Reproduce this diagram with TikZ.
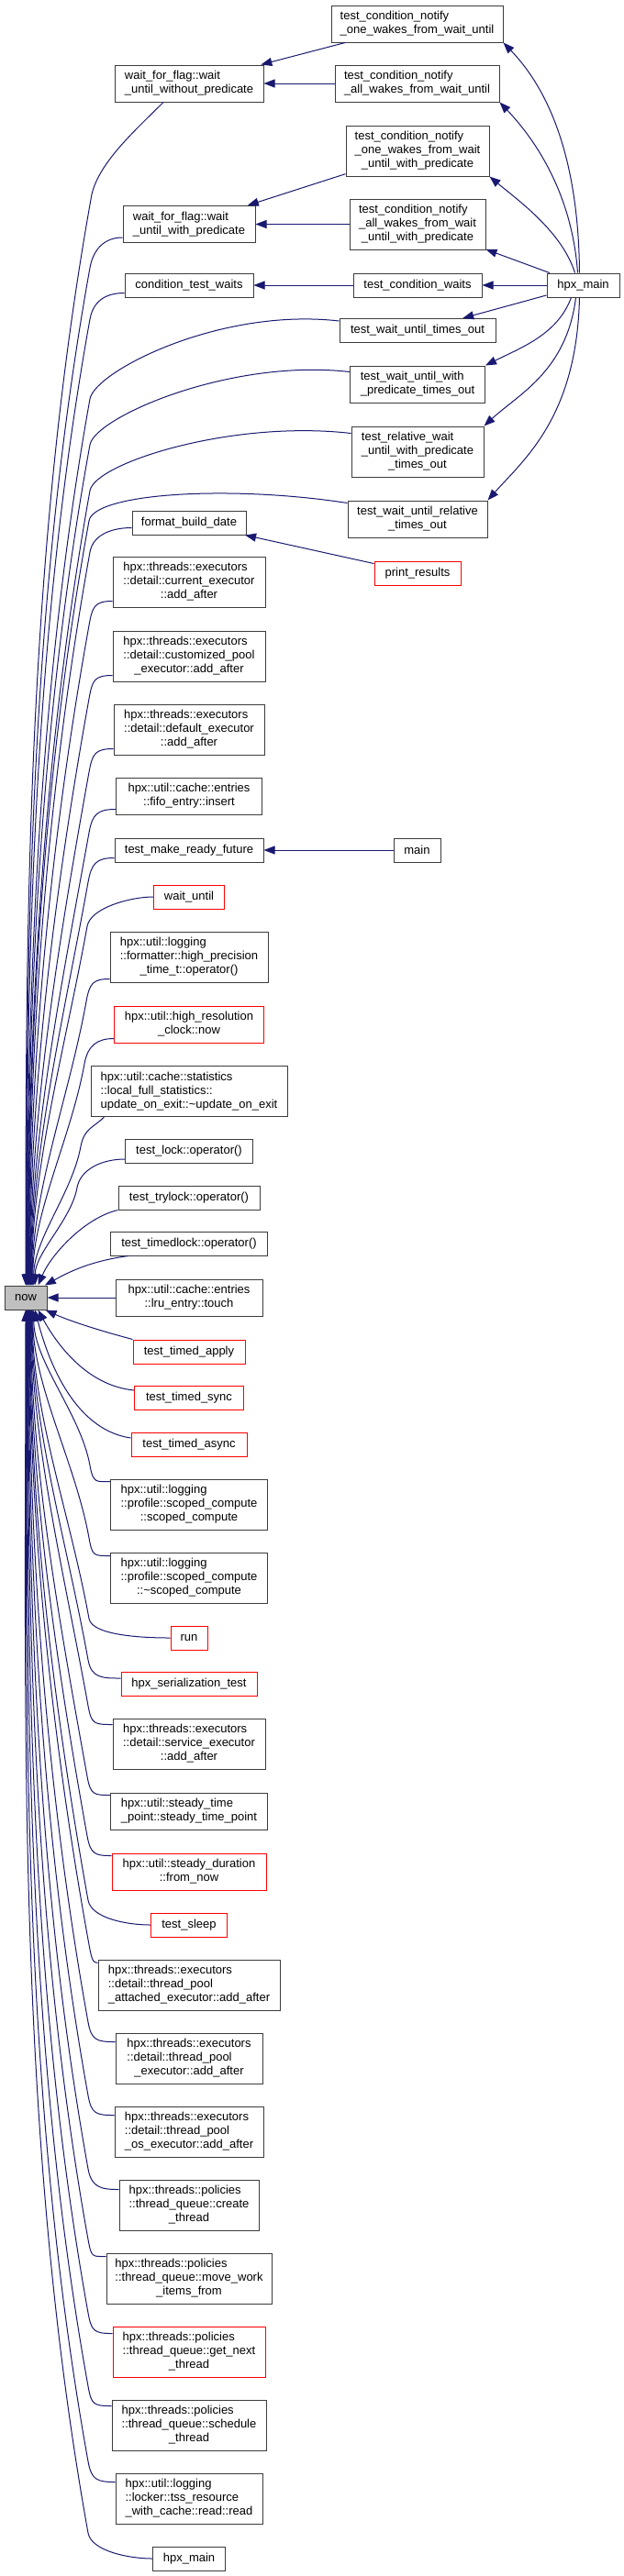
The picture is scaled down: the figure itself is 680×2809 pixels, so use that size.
\documentclass[tikz,border=0pt]{standalone}
\usepackage{fontspec}
\setmainfont{Liberation Sans}
\usetikzlibrary{arrows.meta}
\definecolor{edgeblue}{RGB}{25,25,112}
\definecolor{nowgray}{RGB}{191,191,191}
\definecolor{boxline}{RGB}{60,60,60}
\definecolor{truncred}{RGB}{255,0,0}
\newcommand{\fnlabel}[2]{\begin{tabular}{@{}l@{}}#1\\\multicolumn{1}{@{}c@{}}{#2}\end{tabular}}

\begin{document}
\begin{tikzpicture}[x=1pt,y=-1pt,
  fnbox/.style={draw=boxline,line width=1pt,fill=white,inner xsep=2pt,inner ysep=0pt,
    font=\fontsize{13pt}{15pt}\selectfont},
  truncbox/.style={fnbox,draw=truncred},
  lh1/.style={minimum height=26pt},
  lh2/.style={minimum height=40pt},
  lh3/.style={minimum height=55pt},
  callline/.style={draw=edgeblue,line width=1pt,-{Triangle[length=12pt,width=9pt]}}
]
  \fill[white] (0,0) rectangle (680,2809);
  \useasboundingbox (0,0) rectangle (680,2809);

  % the called function
  \node[fnbox,lh1,minimum width=46pt,fill=nowgray] (now) at (28,1415) {now};

  % Outer callers
  \node[fnbox,lh1,minimum width=79pt] (hpxMainR) at (635.5,311) {hpx\_main};

  % Second column
  \node[fnbox,lh2,minimum width=187pt] (tcnOneWait) at (454.5,26) {\fnlabel{test\_condition\_notify}{\_one\_wakes\_from\_wait\_until}};
  \node[fnbox,lh2,minimum width=179pt] (tcnAllWait) at (454.5,91) {\fnlabel{test\_condition\_notify}{\_all\_wakes\_from\_wait\_until}};
  \node[fnbox,lh3,minimum width=156pt] (tcnOnePred) at (455,164.5) {\fnlabel{test\_condition\_notify\\\_one\_wakes\_from\_wait}{\_until\_with\_predicate}};
  \node[fnbox,lh3,minimum width=148pt] (tcnAllPred) at (455,244.5) {\fnlabel{test\_condition\_notify\\\_all\_wakes\_from\_wait}{\_until\_with\_predicate}};
  \node[fnbox,lh1,minimum width=140pt] (tcw) at (455,311) {test\_condition\_waits};
  \node[fnbox,lh1,minimum width=170pt] (twuto) at (455,360.5) {test\_wait\_until\_times\_out};
  \node[fnbox,lh2,minimum width=147pt] (twuwpto) at (455,419) {\fnlabel{test\_wait\_until\_with}{\_predicate\_times\_out}};
  \node[fnbox,lh3,minimum width=144pt] (trwuwpto) at (455,492.5) {\fnlabel{test\_relative\_wait\\\_until\_with\_predicate}{\_times\_out}};
  \node[fnbox,lh2,minimum width=152pt] (twurto) at (455,566) {\fnlabel{test\_wait\_until\_relative}{\_times\_out}};
  \node[truncbox,lh1,minimum width=94pt] (printRes) at (455,625) {print\_results};
  \node[fnbox,lh1,minimum width=51pt] (mainN) at (454.5,927) {main};

  % First column
  \node[fnbox,lh2,minimum width=162pt] (wwp) at (206,91) {\fnlabel{wait\_for\_flag::wait}{\_until\_without\_predicate}};
  \node[fnbox,lh2,minimum width=144pt] (wwpred) at (206,244.5) {\fnlabel{wait\_for\_flag::wait}{\_until\_with\_predicate}};
  \node[fnbox,lh1,minimum width=140pt] (ctw) at (206,311) {condition\_test\_waits};
  \node[fnbox,lh1,minimum width=124pt] (fbd) at (206,570) {format\_build\_date};
  \node[fnbox,lh3,minimum width=166pt] (curExec) at (206,634.5) {\fnlabel{hpx::threads::executors\\::detail::current\_executor}{::add\_after}};
  \node[fnbox,lh3,minimum width=166pt] (custPool) at (206,715.5) {\fnlabel{hpx::threads::executors\\::detail::customized\_pool}{\_executor::add\_after}};
  \node[fnbox,lh3,minimum width=164pt] (defExec) at (206,795.5) {\fnlabel{hpx::threads::executors\\::detail::default\_executor}{::add\_after}};
  \node[fnbox,lh2,minimum width=159pt] (fifoIns) at (206,868) {\fnlabel{hpx::util::cache::entries}{::fifo\_entry::insert}};
  \node[fnbox,lh1,minimum width=162pt] (tmrf) at (206,927) {test\_make\_ready\_future};
  \node[truncbox,lh1,minimum width=77pt] (waitUntil) at (206,978) {wait\_until};
  \node[fnbox,lh3,minimum width=172pt] (hptOp) at (206,1043.5) {\fnlabel{hpx::util::logging\\::formatter::high\_precision}{\_time\_t::operator()}};
  \node[truncbox,lh2,minimum width=163pt] (hrcNow) at (206,1117) {\fnlabel{hpx::util::high\_resolution}{\_clock::now}};
  \node[fnbox,lh3,minimum width=214pt] (updExit) at (206,1190) {\fnlabel{hpx::util::cache::statistics\\::local\_full\_statistics::}{update\_on\_exit::\textasciitilde update\_on\_exit}};
  \node[fnbox,lh1,minimum width=139pt] (lockOp) at (206,1255.5) {test\_lock::operator()};
  \node[fnbox,lh1,minimum width=154pt] (trylockOp) at (206,1306) {test\_trylock::operator()};
  \node[fnbox,lh1,minimum width=171pt] (timedlockOp) at (206,1356) {test\_timedlock::operator()};
  \node[fnbox,lh2,minimum width=160pt] (lruTouch) at (206,1415) {\fnlabel{hpx::util::cache::entries}{::lru\_entry::touch}};
  \node[truncbox,lh1,minimum width=122pt] (timedApply) at (206,1474) {test\_timed\_apply};
  \node[truncbox,lh1,minimum width=119pt] (timedSync) at (206,1524.5) {test\_timed\_sync};
  \node[truncbox,lh1,minimum width=126pt] (timedAsync) at (206,1575.5) {test\_timed\_async};
  \node[fnbox,lh3,minimum width=171pt] (scopedComp) at (206,1640.5) {\fnlabel{hpx::util::logging\\::profile::scoped\_compute}{::scoped\_compute}};
  \node[fnbox,lh3,minimum width=171pt] (scopedDtor) at (206,1720.5) {\fnlabel{hpx::util::logging\\::profile::scoped\_compute}{::\textasciitilde scoped\_compute}};
  \node[truncbox,lh1,minimum width=40pt] (runN) at (206,1786) {run};
  \node[truncbox,lh1,minimum width=148pt] (serTest) at (206,1836.5) {hpx\_serialization\_test};
  \node[fnbox,lh3,minimum width=166pt] (svcExec) at (206,1901.5) {\fnlabel{hpx::threads::executors\\::detail::service\_executor}{::add\_after}};
  \node[fnbox,lh2,minimum width=171pt] (steadyTp) at (206,1975) {\fnlabel{hpx::util::steady\_time}{\_point::steady\_time\_point}};
  \node[truncbox,lh2,minimum width=168pt] (steadyDur) at (206,2041) {\fnlabel{hpx::util::steady\_duration}{::from\_now}};
  \node[truncbox,lh1,minimum width=83pt] (testSleep) at (206,2099) {test\_sleep};
  \node[fnbox,lh3,minimum width=198pt] (tpAttached) at (206,2164.5) {\fnlabel{hpx::threads::executors\\::detail::thread\_pool}{\_attached\_executor::add\_after}};
  \node[fnbox,lh3,minimum width=160pt] (tpExec) at (206,2244.5) {\fnlabel{hpx::threads::executors\\::detail::thread\_pool}{\_executor::add\_after}};
  \node[fnbox,lh3,minimum width=162pt] (tpOsExec) at (206,2324.5) {\fnlabel{hpx::threads::executors\\::detail::thread\_pool}{\_os\_executor::add\_after}};
  \node[fnbox,lh3,minimum width=152pt] (createThr) at (206,2404.5) {\fnlabel{hpx::threads::policies\\::thread\_queue::create}{\_thread}};
  \node[fnbox,lh3,minimum width=180pt] (moveWork) at (206,2484.5) {\fnlabel{hpx::threads::policies\\::thread\_queue::move\_work}{\_items\_from}};
  \node[truncbox,lh3,minimum width=166pt] (nextThr) at (206,2564.5) {\fnlabel{hpx::threads::policies\\::thread\_queue::get\_next}{\_thread}};
  \node[fnbox,lh3,minimum width=168pt] (schedThr) at (206,2644.5) {\fnlabel{hpx::threads::policies\\::thread\_queue::schedule}{\_thread}};
  \node[fnbox,lh3,minimum width=160pt] (tssRead) at (206,2724.5) {\fnlabel{hpx::util::logging\\::locker::tss\_resource}{\_with\_cache::read::read}};
  \node[fnbox,lh1,minimum width=79pt] (hpxMainB) at (206,2790) {hpx\_main};

  % Edges between the right columns
  \draw[callline] (tcnOneWait) -- (wwp);
  \draw[callline] (tcnAllWait) -- (wwp);
  \draw[callline] (tcnOnePred) -- (wwpred);
  \draw[callline] (tcnAllPred) -- (wwpred);
  \draw[callline] (tcw) -- (ctw);
  \draw[callline] (printRes) -- (fbd);
  \draw[callline] (mainN) -- (tmrf);
  \draw[callline] (hpxMainR) -- (tcnAllPred);
  \draw[callline] (hpxMainR) -- (tcw);
  \draw[callline] (hpxMainR) -- (twuto);
  \draw[callline] ([xshift=-4pt]hpxMainR.north) .. controls +(-1,-120) and +(52,54) .. (tcnOneWait.south east);
  \draw[callline] ([xshift=-6pt]hpxMainR.north) .. controls +(-6,-85) and +(40,42) .. (tcnAllWait.south east);
  \draw[callline] ([xshift=-9pt]hpxMainR.north) .. controls +(-14,-45) and +(30,25) .. (tcnOnePred.south east);
  \draw[callline] ([xshift=-13pt]hpxMainR.south) .. controls +(-15,40) and +(40,-20) .. (twuwpto.north east);
  \draw[callline] ([xshift=-8pt]hpxMainR.south) .. controls +(-10,80) and +(38,-35) .. (trwuwpto.north east);
  \draw[callline] ([xshift=-4pt]hpxMainR.south) .. controls +(-3,130) and +(40,-45) .. (twurto.north east);

  % Callers above now
  \draw[callline] ([xshift=-28pt]wwp.south) .. controls +(-30,30) and +(8,-35) .. (100,212)
    .. controls +(-71,393) and +(0,-393) .. (now.90);
  \draw[callline] ([yshift=-3pt]twuto.north west) .. controls +(-130,-15) and +(5.4,-30) .. (98,435)
    .. controls +(-57,319) and +(0,-319) .. (now.84);
  \draw[callline] ([yshift=-7pt]twuwpto.north west) .. controls +(-130,-15) and +(5.4,-30) .. (98,485)
    .. controls +(-55,303) and +(0,-303) .. (now.82);
  \draw[callline] ([yshift=-8pt]trwuwpto.north west) .. controls +(-130,-15) and +(5.4,-30) .. (98,535)
    .. controls +(-51,286) and +(0,-286) .. (now.80);
  \draw[callline] ([yshift=-3pt]twurto.north west) .. controls +(-130,-20) and +(5,-30) .. (97,568)
    .. controls +(-50,275) and +(0,-275) .. (now.78);
  \foreach \src/\anc/\dshift/\hl/\wx/\wy/\ang in {wwpred/south west/6pt/20/98/292/88,
    ctw/south west/5pt/20/98/348/86,fbd/south west/8pt/20/98/602/76,
    curExec/south west/7pt/20/97/682/74,custPool/south west/7pt/20/97/762/72,
    defExec/south west/7pt/20/97/842/70,fifoIns/south west/6pt/20/97/908/68,
    tmrf/south west/5pt/20/96/962/66,waitUntil/west/0pt/25/95/1010/64,
    hptOp/south west/4pt/18/94/1092/62,hrcNow/south west/5pt/18/92/1160/60,
    lockOp/south west/5pt/25/84/1295/53}{
    \pgfmathsetmacro\L{0.33*(1402-\wy)}
    \draw[callline] ([yshift=\dshift]\src.\anc) .. controls +(-\hl,0) and +(3.6,-20) .. (\wx,\wy)
      .. controls +({-0.18*\L},\L) and +(0,{-\L}) .. (now.\ang);
  }
  \draw[callline] ([xshift=15pt]updExit.south west) .. controls +(-12,12) and +(4,-20) .. (88,1250)
    .. controls +(-9,50) and +(0,-50) .. (now.57);
  \draw[callline] (trylockOp.south west) .. controls +(-35,8) and +(15,-35) .. (now.45);
  \draw[callline] ([xshift=20pt]timedlockOp.south west) .. controls +(-45,6) and +(22,-12) .. (now.33);
  \draw[callline] (lruTouch) -- (now);

  % Callers below now
  \draw[callline] (timedApply.north west) .. controls +(-45,-12) and +(22,10) .. (now.328);
  \draw[callline] ([yshift=-5pt]timedSync.north west) .. controls +(-50,-5) and +(22,40) .. (now.315);
  \draw[callline] ([yshift=-6pt]timedAsync.north west) .. controls +(-55,-8) and +(18,70) .. (now.307);
  \foreach \src/\anc/\dshift/\hl/\wx/\wy/\ang in {scopedComp/north west/-3pt/15/98/1598/303,
    scopedDtor/north west/-4pt/18/97/1677/300,runN/west/0pt/20/97/1765/298,
    serTest/north west/-7pt/20/96/1810/296,svcExec/north west/-7pt/20/96/1860/294,
    steadyTp/north west/-3pt/18/95/1937/292,steadyDur/north west/-3pt/18/95/2002/290,
    testSleep/west/0pt/25/96/2072/288,tpAttached/north west/-4pt/6/96/2115/286,
    tpExec/north west/-10pt/20/96/2205/284,tpOsExec/north west/-10pt/20/96/2285/282,
    createThr/north west/-11pt/20/96/2365/280,moveWork/north west/-4pt/15/96/2442/278,
    nextThr/north west/-8pt/20/96/2522/276,schedThr/north west/-7pt/20/96/2602/274,
    tssRead/north west/-10pt/20/96/2684/272,hpxMainB/west/0pt/25/96/2762/270}{
    \pgfmathsetmacro\L{0.33*(\wy-1428)}
    \draw[callline] ([yshift=\dshift]\src.\anc) .. controls +(-\hl,0) and +(3.6,20) .. (\wx,\wy)
      .. controls +({-0.18*\L},{-\L}) and +(0,\L) .. (now.\ang);
  }
\end{tikzpicture}
\end{document}
